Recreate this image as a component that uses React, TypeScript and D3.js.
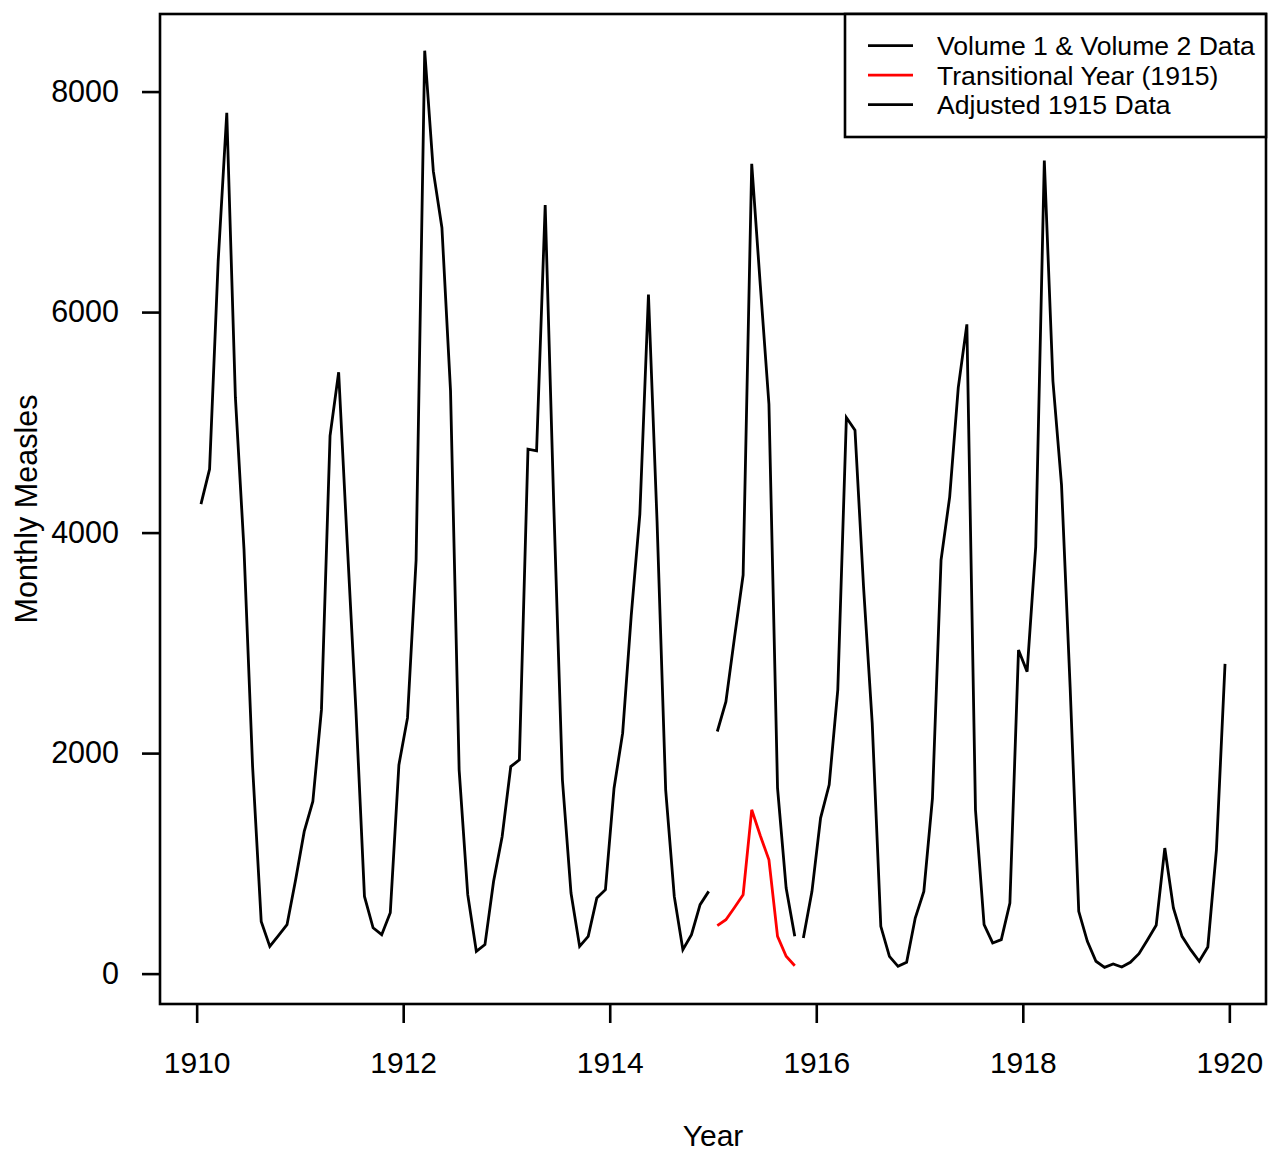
import React, { useEffect, useRef } from "react";
import * as d3 from "d3";

const width = 1269;
const height = 1153;
const space = {
  marginLeft: 160,
  marginRight: 3,
  marginTop: 14,
  marginBottom: 149,
};

// monthly counts, Jan 1910 - Dec 1914
const volumeData1910 = [
  4258, 4575, 6462, 7807, 5228, 3850, 1878, 474, 247, 345, 444, 852,
  1290, 1561, 2392, 4877, 5454, 3900, 2400, 700, 416, 353, 552, 1893,
  2319, 3751, 8371, 7278, 6765, 5285, 1848, 716, 202, 263, 836, 1244,
  1878, 1939, 4757, 4741, 6970, 4240, 1758, 731, 247, 338, 686, 761,
  1682, 2181, 3250, 4168, 6160, 4100, 1667, 700, 217, 353, 625, 746,
];

// Jan - Oct 1915
const transitional1915 = [435, 489, 600, 716, 1486, 1250, 1033, 338, 157, 72];
const adjusted1915 = [2196, 2467, 3050, 3615, 7345, 6240, 5164, 1682, 776, 338];

// Nov 1915 - Dec 1919
const volumeData1915 = [
  323, 746,
  1411, 1712, 2573, 5044, 4929, 3500, 2274, 429, 157, 66, 103, 504,
  746, 1590, 3751, 4322, 5315, 5889, 1486, 444, 278, 308, 640, 2935,
  2739, 3871, 7375, 5375, 4430, 2600, 565, 293, 112, 57, 88, 60,
  103, 181, 308, 438, 1139, 595, 338, 217, 112, 242, 1123, 2809,
];

const xTicks = [1910, 1912, 1914, 1916, 1918, 1920];
const yTicks = [0, 2000, 4000, 6000, 8000];

const legendItems = [
  { label: "Volume 1 & Volume 2 Data", color: "black" },
  { label: "Transitional Year (1915)", color: "red" },
  { label: "Adjusted 1915 Data", color: "black" },
];

// year + month index -> decimal time at mid month
const toSeries = (values: number[], startYear: number, startMonth: number) =>
  values.map((v, i) => ({ t: startYear + (startMonth + i + 0.5) / 12, v }));

const MeaslesChart = () => {
  const ref = useRef<SVGSVGElement | null>(null);

  const chart = () => {
    const svg = d3
      .select(ref.current)
      .attr("width", width)
      .attr("height", height)
      .attr("viewBox", [0, 0, width, height].join(" "))
      .style("font-family", "'Liberation Sans', Arial, sans-serif");
    svg.selectAll("*").remove();

    const series = [
      { data: toSeries(volumeData1910, 1910, 0), color: "black" },
      { data: toSeries(transitional1915, 1915, 0), color: "red" },
      { data: toSeries(adjusted1915, 1915, 0), color: "black" },
      { data: toSeries(volumeData1915, 1915, 10), color: "black" },
    ];
    const all = series.flatMap((s) => s.data);

    // R style 4% padding of the data range
    const [tMin, tMax] = d3.extent(all, (d) => d.t) as [number, number];
    const [vMin, vMax] = d3.extent(all, (d) => d.v) as [number, number];
    const tPad = (tMax - tMin) * 0.04;
    const vPad = (vMax - vMin) * 0.04;

    const x = d3
      .scaleLinear()
      .domain([tMin - tPad, tMax + tPad])
      .range([space.marginLeft, width - space.marginRight]);

    const y = d3
      .scaleLinear()
      .domain([vMin - vPad, vMax + vPad])
      .range([height - space.marginBottom, space.marginTop]);

    const line = d3
      .line<{ t: number; v: number }>()
      .x((d) => x(d.t))
      .y((d) => y(d.v));

    svg
      .append("g")
      .selectAll("path")
      .data(series)
      .join("path")
      .attr("fill", "none")
      .attr("stroke", (d) => d.color)
      .attr("stroke-width", 2.8)
      .attr("stroke-linejoin", "miter")
      .attr("d", (d) => line(d.data));

    // x axis
    const xAxis = d3.axisBottom(x).tickValues(xTicks).tickSize(19).tickPadding(29).tickFormat(d3.format("d"));
    svg
      .append("g")
      .attr("transform", `translate(0, ${height - space.marginBottom})`)
      .call(xAxis)
      .call((g) => g.select(".domain").remove())
      .call((g) => g.selectAll(".tick line").attr("stroke-width", 2.6))
      .call((g) => g.selectAll(".tick text").attr("font-size", 30).attr("fill", "black").attr("font-family", null));

    // y axis
    const yAxis = d3.axisLeft(y).tickValues(yTicks).tickSize(18).tickPadding(23).tickFormat(d3.format("d"));
    svg
      .append("g")
      .attr("transform", `translate(${space.marginLeft}, 0)`)
      .call(yAxis)
      .call((g) => g.select(".domain").remove())
      .call((g) => g.selectAll(".tick line").attr("stroke-width", 2.6))
      .call((g) => g.selectAll(".tick text").attr("font-size", 30.5).attr("fill", "black").attr("font-family", null));

    // plot box
    svg
      .append("rect")
      .attr("x", space.marginLeft)
      .attr("y", space.marginTop)
      .attr("width", width - space.marginRight - space.marginLeft)
      .attr("height", height - space.marginBottom - space.marginTop)
      .attr("fill", "none")
      .attr("stroke", "black")
      .attr("stroke-width", 2.6);

    // axis titles
    svg
      .append("text")
      .attr("x", (space.marginLeft + width - space.marginRight) / 2)
      .attr("y", 1146)
      .attr("text-anchor", "middle")
      .attr("font-size", 30)
      .text("Year");

    svg
      .append("text")
      .attr("transform", `translate(37, ${(space.marginTop + height - space.marginBottom) / 2}) rotate(-90)`)
      .attr("text-anchor", "middle")
      .attr("font-size", 30.5)
      .text("Monthly Measles");

    // legend
    const legend = svg.append("g");
    const lx = 845;
    const right = width - space.marginRight;
    legend
      .append("rect")
      .attr("x", lx)
      .attr("y", space.marginTop)
      .attr("width", right - lx)
      .attr("height", 123)
      .attr("fill", "white")
      .attr("stroke", "black")
      .attr("stroke-width", 2.6);

    const rows = legend
      .selectAll("g.row")
      .data(legendItems)
      .join("g")
      .attr("class", "row")
      .attr("transform", (d, i) => `translate(0, ${45.7 + i * 29.5})`);

    rows
      .append("line")
      .attr("x1", 868)
      .attr("x2", 913)
      .attr("stroke", (d) => d.color)
      .attr("stroke-width", 2.8);

    rows
      .append("text")
      .attr("x", 937)
      .attr("dy", "0.35em")
      .attr("font-size", 26.6)
      .text((d) => d.label);
  };

  useEffect(() => {
    chart();
  }, []);

  return (
    <div>
      <svg ref={ref} style={{ position: "absolute", left: 0, top: 0, background: "white" }} />
    </div>
  );
};

export default function App() {
  return <MeaslesChart />;
}
